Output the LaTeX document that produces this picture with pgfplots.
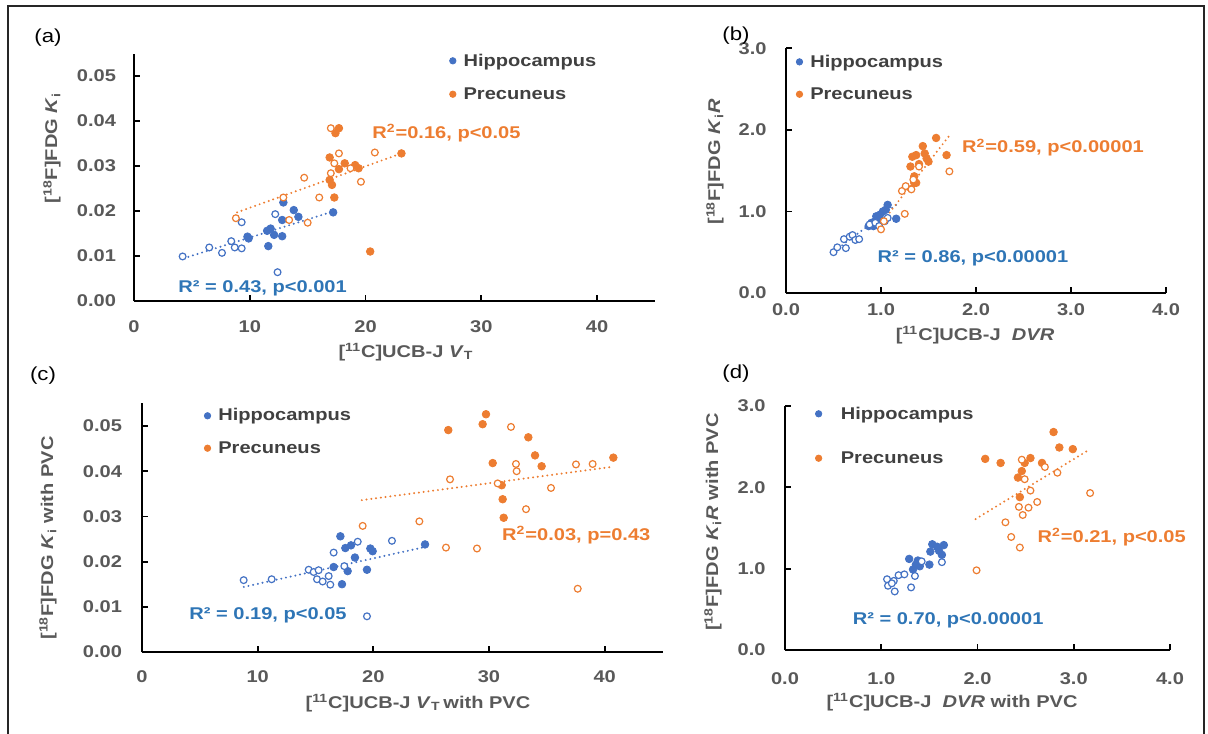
\documentclass[border=0pt]{standalone}
\usepackage{pgfplots}
\pgfplotsset{compat=1.18}
\usepackage{fontspec}
\setmainfont{Liberation Sans}[FakeStretch=1.18]

\definecolor{hip}{HTML}{4472C4}
\definecolor{pre}{HTML}{ED7D31}
\definecolor{rblue}{HTML}{2E75B6}
\definecolor{tgray}{HTML}{595959}
\definecolor{lgray}{HTML}{404040}

\newcommand\tf{\bfseries\fontsize{8.5}{10}\selectfont}

\pgfplotsset{
  panel/.style={
    scale only axis, anchor=origin, clip=false,
    xmin=0, ymin=0, scaled ticks=false,
    axis lines=left,
    axis line style={-, line width=1pt, black},
    tick align=inside, major tick length=3pt,
    tick style={line width=0.9pt, black},
    ticklabel style={font=\tf, text=tgray},
    /pgf/number format/assume math mode=true,
    legend style={draw=none, fill=none, inner sep=0pt, anchor=west,
      font=\tf, text=lgray, cells={anchor=west}, row sep=7pt,
      nodes={inner sep=0pt, text height=0.72em, text depth=0.2em},
      /tikz/every odd column/.append style={column sep=3.8pt}},
    legend image code/.code={\draw[##1, mark size=1.6pt] plot coordinates {(0pt,0pt)};},
  },
  hipF/.style={only marks, color=hip, mark=*, mark size=1.9pt},
  hipO/.style={only marks, color=hip, mark=*, mark size=1.7pt, mark options={solid, fill=white, line width=0.6pt}, forget plot},
  preF/.style={only marks, color=pre, mark=*, mark size=1.9pt},
  preO/.style={only marks, color=pre, mark=*, mark size=1.7pt, mark options={solid, fill=white, line width=0.6pt}, forget plot},
  trend/.style={line width=1.1pt, line cap=round, dash pattern=on 0pt off 2.4pt, forget plot},
}

\begin{document}
\begin{tikzpicture}
\useasboundingbox (0,0) rectangle (604pt,-366.5pt);
\draw[line width=1pt, black!85] (4pt,-367pt) -- (4pt,-3pt) -- (602pt,-3pt) -- (602pt,-367pt);

% (a)
\begin{axis}[panel, at={(67pt,-150.5pt)}, width=260.5pt, height=123.75pt,
  xmax=45, ymax=0.055, xtick={0,10,20,30,40}, ytick={0,0.01,0.02,0.03,0.04,0.05},
  xticklabel style={yshift=-6.2pt},
  yticklabel style={xshift=-5.5pt, /pgf/number format/fixed, /pgf/number format/fixed zerofill, /pgf/number format/precision=2},
  legend style={at={(0.605,0.903)}, row sep=7.5pt}]
\addplot[hipF] coordinates {(9.8,0.0143) (9.9,0.0139) (11.6,0.0122) (11.5,0.0156) (11.8,0.0161) (12.1,0.0147) (12.8,0.0144) (12.8,0.0180) (12.9,0.0219) (13.8,0.0202) (14.2,0.0187) (17.2,0.0197)};
\addlegendentry{Hippocampus}
\addplot[preF] coordinates {(16.9,0.0319) (16.9,0.0269) (17.1,0.0258) (17.3,0.0230) (17.4,0.0373) (17.7,0.0384) (17.7,0.0293) (18.2,0.0306) (19.1,0.0302) (19.4,0.0295) (20.4,0.0110) (23.1,0.0328)};
\addlegendentry{Precuneus}
\addplot[hipO] coordinates {(4.2,0.0099) (6.5,0.0119) (7.6,0.0107) (8.4,0.0133) (8.7,0.0119) (9.3,0.0117) (9.3,0.0175) (12.2,0.0193) (12.4,0.0064)};
\addplot[preO] coordinates {(8.8,0.0184) (12.9,0.0230) (13.4,0.0180) (14.7,0.0274) (15.0,0.0174) (16.0,0.0230) (17.0,0.0284) (17.0,0.0384) (17.3,0.0306) (17.7,0.0328) (18.7,0.0295) (19.6,0.0265) (20.8,0.0330)};
\addplot[trend, hip] coordinates {(4.3,0.0095) (17.2,0.0199)};
\addplot[trend, pre] coordinates {(8.9,0.0197) (23.1,0.0328)};
\node[anchor=west, font=\tf, text=pre, inner sep=0pt] at (axis cs:20.55,0.0373) {R\textsuperscript{2}=0.16, p<0.05};
\node[anchor=west, font=\tf, text=rblue, inner sep=0pt] at (axis cs:3.8,0.0029) {R² = 0.43, p<0.001};
\end{axis}

% (b)
\begin{axis}[panel, at={(393pt,-146.5pt)}, width=190pt, height=122.4pt,
  xmax=4, ymax=3, xtick={0,1,2,3,4}, ytick={0,1,2,3},
  xticklabel style={yshift=-1.7pt, /pgf/number format/fixed, /pgf/number format/fixed zerofill, /pgf/number format/precision=1},
  yticklabel style={xshift=-6.2pt, /pgf/number format/fixed, /pgf/number format/fixed zerofill, /pgf/number format/precision=1},
  legend style={at={(0.026,0.878)}, row sep=7pt}]
\addplot[hipF] coordinates {(0.87,0.82) (0.90,0.86) (0.92,0.82) (0.94,0.88) (0.95,0.94) (0.97,0.90) (0.99,0.96) (1.02,1.00) (1.05,1.02) (1.07,1.08) (1.16,0.91) (0.93,0.85)};
\addlegendentry{Hippocampus}
\addplot[preF] coordinates {(1.31,1.55) (1.33,1.67) (1.35,1.35) (1.37,1.35) (1.35,1.43) (1.37,1.69) (1.44,1.80) (1.46,1.71) (1.48,1.65) (1.50,1.61) (1.58,1.90) (1.69,1.69) (1.40,1.58)};
\addlegendentry{Precuneus}
\addplot[hipO] coordinates {(0.50,0.50) (0.54,0.56) (0.61,0.66) (0.63,0.55) (0.67,0.69) (0.70,0.71) (0.73,0.65) (0.77,0.66) (0.88,0.84) (0.94,0.86) (1.04,0.88) (1.07,0.92) (0.98,0.82)};
\addplot[preO] coordinates {(1.00,0.78) (1.03,0.88) (1.25,0.97) (1.22,1.25) (1.26,1.31) (1.32,1.27) (1.34,1.39) (1.40,1.55) (1.72,1.49)};
\addplot[trend, hip] coordinates {(0.55,0.55) (1.16,1.08)};
\addplot[trend, pre] coordinates {(1.06,0.94) (1.72,1.93)};
\node[anchor=west, font=\tf, text=pre, inner sep=0pt] at (axis cs:1.85,1.78) {R\textsuperscript{2}=0.59, p<0.00001};
\node[anchor=west, font=\tf, text=rblue, inner sep=0pt] at (axis cs:0.96,0.43) {R² = 0.86, p<0.00001};
\end{axis}

% (c)
\begin{axis}[panel, at={(71pt,-326pt)}, width=260.25pt, height=124.3pt,
  xmax=45, ymax=0.055, xtick={0,10,20,30,40}, ytick={0,0.01,0.02,0.03,0.04,0.05},
  xticklabel style={yshift=-5.7pt},
  yticklabel style={xshift=-6.5pt, /pgf/number format/fixed, /pgf/number format/fixed zerofill, /pgf/number format/precision=2},
  legend style={at={(0.119,0.885)}, row sep=7pt}]
\addplot[hipF] coordinates {(16.57,0.0188) (17.15,0.0256) (17.29,0.0150) (17.58,0.0230) (17.78,0.0179) (18.07,0.0236) (18.41,0.0209) (19.45,0.0182) (19.74,0.0229) (19.94,0.0223) (24.47,0.0238)};
\addlegendentry{Hippocampus}
\addplot[preF] coordinates {(26.48,0.0491) (29.45,0.0504) (29.74,0.0526) (30.32,0.0418) (31.10,0.0369) (31.18,0.0338) (31.27,0.0297) (33.40,0.0475) (33.98,0.0435) (34.55,0.0411) (40.75,0.0430)};
\addlegendentry{Precuneus}
\addplot[hipO] coordinates {(8.79,0.0159) (11.21,0.0161) (14.41,0.0182) (14.84,0.0177) (15.27,0.0181) (15.13,0.0161) (15.62,0.0156) (16.14,0.0168) (16.28,0.0149) (16.57,0.0220) (17.49,0.0190) (18.65,0.0244) (21.61,0.0246) (19.45,0.0079)};
\addplot[preO] coordinates {(19.08,0.0279) (23.98,0.0289) (26.28,0.0231) (26.63,0.0382) (28.96,0.0229) (31.90,0.0498) (30.75,0.0373) (32.33,0.0416) (32.39,0.0400) (33.20,0.0316) (35.36,0.0363) (37.52,0.0415) (38.96,0.0416) (37.67,0.0140)};
\addplot[trend, hip] coordinates {(8.8,0.0144) (24.4,0.0232)};
\addplot[trend, pre] coordinates {(19.0,0.0336) (40.75,0.0410)};
\node[anchor=west, font=\tf, text=pre, inner sep=0pt] at (axis cs:31.1,0.0259) {R\textsuperscript{2}=0.03, p=0.43};
\node[anchor=west, font=\tf, text=rblue, inner sep=0pt] at (axis cs:4.06,0.0082) {R² = 0.19, p<0.05};
\end{axis}

% (d)
\begin{axis}[panel, at={(392.5pt,-325pt)}, width=192.5pt, height=122pt,
  xmax=4, ymax=3, xtick={0,1,2,3,4}, ytick={0,1,2,3},
  xticklabel style={yshift=-7.7pt, /pgf/number format/fixed, /pgf/number format/fixed zerofill, /pgf/number format/precision=1},
  yticklabel style={xshift=-6.2pt, /pgf/number format/fixed, /pgf/number format/fixed zerofill, /pgf/number format/precision=1},
  legend style={at={(0.078,0.877)}, row sep=13pt, /tikz/every odd column/.append style={column sep=9.5pt}}]
\addplot[hipF] coordinates {(1.29,1.12) (1.33,0.99) (1.38,1.10) (1.40,1.03) (1.50,1.05) (1.51,1.21) (1.53,1.30) (1.58,1.27) (1.60,1.22) (1.63,1.17) (1.65,1.29) (1.36,1.05)};
\addlegendentry{Hippocampus}
\addplot[preF] coordinates {(2.08,2.35) (2.24,2.30) (2.42,2.12) (2.46,2.20) (2.49,2.30) (2.55,2.36) (2.67,2.30) (2.44,1.88) (2.79,2.68) (2.85,2.49) (2.99,2.47)};
\addlegendentry{Precuneus}
\addplot[hipO] coordinates {(1.06,0.87) (1.07,0.79) (1.13,0.85) (1.14,0.72) (1.18,0.92) (1.24,0.93) (1.31,0.77) (1.35,0.91) (1.42,1.09) (1.63,1.08) (1.11,0.82)};
\addplot[preO] coordinates {(1.99,0.98) (2.29,1.57) (2.35,1.39) (2.44,1.26) (2.43,1.76) (2.47,1.66) (2.53,1.75) (2.55,1.96) (2.49,2.10) (2.46,2.34) (2.62,1.82) (2.70,2.25) (2.83,2.18) (3.17,1.93)};
\addplot[trend, pre] coordinates {(1.98,1.61) (3.17,2.47)};
\node[anchor=west, font=\tf, text=pre, inner sep=0pt] at (axis cs:2.62,1.39) {R\textsuperscript{2}=0.21, p<0.05};
\node[anchor=west, font=\tf, text=rblue, inner sep=0pt] at (axis cs:0.70,0.37) {R² = 0.70, p<0.00001};
\end{axis}

% axis titles
\begin{scope}[every node/.style={font=\tf, text=tgray, inner sep=0pt}]
\node[rotate=90] at (26pt,-74pt) {[\textsuperscript{18}F]FDG \textit{K}\textsubscript{i}};
\node at (203pt,-176pt) {[\textsuperscript{11}C]UCB-J \textit{V}\textsubscript{T}};
\node[rotate=90] at (357.5pt,-81pt) {[\textsuperscript{18}F]FDG \textit{K}\textsubscript{i}\textit{R}};
\node at (487.5pt,-167.5pt) {[\textsuperscript{11}C]UCB-J\ \ \textit{DVR}};
\node[rotate=90] at (24pt,-269pt) {[\textsuperscript{18}F]FDG \textit{K}\textsubscript{i} with PVC};
\node at (209pt,-351.5pt) {[\textsuperscript{11}C]UCB-J \textit{V}\textsubscript{T}\,with PVC};
\node[rotate=90] at (356.5pt,-261pt) {[\textsuperscript{18}F]FDG \textit{K}\textsubscript{i}\textit{R} with PVC};
\node at (476pt,-351pt) {[\textsuperscript{11}C]UCB-J\ \ \textit{DVR} with PVC};
\end{scope}

% panel letters
\begin{scope}[every node/.style={font=\fontsize{9.4}{11}\selectfont, inner sep=0pt}]
\node at (24pt,-19pt) {(a)};
\node at (368pt,-18pt) {(b)};
\node at (21.5pt,-188pt) {(c)};
\node at (368pt,-187pt) {(d)};
\end{scope}
\end{tikzpicture}
\end{document}
